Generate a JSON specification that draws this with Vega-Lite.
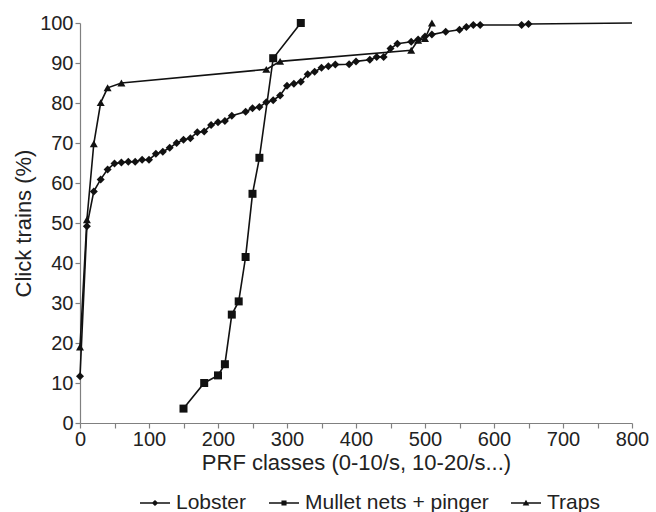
{
  "$schema": "https://vega.github.io/schema/vega-lite/v6.json",
  "width": 552,
  "height": 400,
  "autosize": "none",
  "padding": {"left": 80, "top": 23, "right": 24, "bottom": 89},
  "background": "white",
  "config": {
    "font": "Liberation Sans",
    "view": {"stroke": null},
    "axis": {
      "domainColor": "#808080",
      "tickColor": "#808080",
      "labelColor": "#222222",
      "titleColor": "#222222",
      "labelFontSize": 20,
      "titleFontSize": 22,
      "titleFontWeight": "normal",
      "grid": false,
      "tickSize": 5,
      "domainWidth": 1.2,
      "tickWidth": 1.2
    },
    "legend": {
      "labelFontSize": 21,
      "labelColor": "#222222",
      "labelLimit": 400
    }
  },
  "data": {
    "values": [
      {"series": "Lobster", "x": 0, "y": 11.7},
      {"series": "Lobster", "x": 10, "y": 49.2},
      {"series": "Lobster", "x": 20, "y": 57.9},
      {"series": "Lobster", "x": 30, "y": 60.9},
      {"series": "Lobster", "x": 40, "y": 63.4},
      {"series": "Lobster", "x": 50, "y": 64.9},
      {"series": "Lobster", "x": 60, "y": 65.1},
      {"series": "Lobster", "x": 70, "y": 65.3},
      {"series": "Lobster", "x": 80, "y": 65.3},
      {"series": "Lobster", "x": 90, "y": 65.8},
      {"series": "Lobster", "x": 100, "y": 65.8},
      {"series": "Lobster", "x": 110, "y": 67.3},
      {"series": "Lobster", "x": 120, "y": 67.8},
      {"series": "Lobster", "x": 130, "y": 68.8},
      {"series": "Lobster", "x": 140, "y": 70.0},
      {"series": "Lobster", "x": 150, "y": 70.8},
      {"series": "Lobster", "x": 160, "y": 71.2},
      {"series": "Lobster", "x": 170, "y": 72.7},
      {"series": "Lobster", "x": 180, "y": 72.9},
      {"series": "Lobster", "x": 190, "y": 74.5},
      {"series": "Lobster", "x": 200, "y": 75.2},
      {"series": "Lobster", "x": 210, "y": 75.5},
      {"series": "Lobster", "x": 220, "y": 76.8},
      {"series": "Lobster", "x": 240, "y": 77.8},
      {"series": "Lobster", "x": 250, "y": 78.7},
      {"series": "Lobster", "x": 260, "y": 79.0},
      {"series": "Lobster", "x": 270, "y": 80.2},
      {"series": "Lobster", "x": 280, "y": 80.7},
      {"series": "Lobster", "x": 290, "y": 81.9},
      {"series": "Lobster", "x": 300, "y": 84.3},
      {"series": "Lobster", "x": 310, "y": 84.8},
      {"series": "Lobster", "x": 320, "y": 85.3},
      {"series": "Lobster", "x": 330, "y": 87.2},
      {"series": "Lobster", "x": 340, "y": 87.8},
      {"series": "Lobster", "x": 350, "y": 88.8},
      {"series": "Lobster", "x": 360, "y": 89.2},
      {"series": "Lobster", "x": 370, "y": 89.6},
      {"series": "Lobster", "x": 390, "y": 89.7},
      {"series": "Lobster", "x": 400, "y": 90.4},
      {"series": "Lobster", "x": 420, "y": 90.8},
      {"series": "Lobster", "x": 430, "y": 91.5},
      {"series": "Lobster", "x": 440, "y": 91.5},
      {"series": "Lobster", "x": 450, "y": 93.6},
      {"series": "Lobster", "x": 460, "y": 94.8},
      {"series": "Lobster", "x": 480, "y": 95.3},
      {"series": "Lobster", "x": 490, "y": 95.9},
      {"series": "Lobster", "x": 500, "y": 96.6},
      {"series": "Lobster", "x": 510, "y": 97.1},
      {"series": "Lobster", "x": 530, "y": 97.8},
      {"series": "Lobster", "x": 550, "y": 98.3},
      {"series": "Lobster", "x": 560, "y": 99.0},
      {"series": "Lobster", "x": 570, "y": 99.5},
      {"series": "Lobster", "x": 580, "y": 99.5},
      {"series": "Lobster", "x": 640, "y": 99.5},
      {"series": "Lobster", "x": 650, "y": 99.75},
      {"series": "Lobster", "x": 800, "y": 100},
      {"series": "Mullet nets + pinger", "x": 150, "y": 3.6},
      {"series": "Mullet nets + pinger", "x": 180, "y": 10.0},
      {"series": "Mullet nets + pinger", "x": 200, "y": 11.9},
      {"series": "Mullet nets + pinger", "x": 210, "y": 14.7},
      {"series": "Mullet nets + pinger", "x": 220, "y": 27.1},
      {"series": "Mullet nets + pinger", "x": 230, "y": 30.4},
      {"series": "Mullet nets + pinger", "x": 240, "y": 41.5},
      {"series": "Mullet nets + pinger", "x": 250, "y": 57.3},
      {"series": "Mullet nets + pinger", "x": 260, "y": 66.3},
      {"series": "Mullet nets + pinger", "x": 280, "y": 91.2},
      {"series": "Mullet nets + pinger", "x": 320, "y": 100},
      {"series": "Traps", "x": 0, "y": 19.0},
      {"series": "Traps", "x": 10, "y": 50.8},
      {"series": "Traps", "x": 20, "y": 69.8},
      {"series": "Traps", "x": 30, "y": 80.1},
      {"series": "Traps", "x": 40, "y": 83.8},
      {"series": "Traps", "x": 60, "y": 85.0},
      {"series": "Traps", "x": 270, "y": 88.4},
      {"series": "Traps", "x": 290, "y": 90.4},
      {"series": "Traps", "x": 480, "y": 93.2},
      {"series": "Traps", "x": 490, "y": 95.7},
      {"series": "Traps", "x": 500, "y": 96.1},
      {"series": "Traps", "x": 510, "y": 100}
    ]
  },
  "encoding": {
    "x": {
      "field": "x", "type": "quantitative",
      "scale": {"domain": [0, 800], "nice": false},
      "axis": {
        "title": "PRF classes (0-10/s, 10-20/s...)",
        "values": [0, 50, 100, 150, 200, 250, 300, 350, 400, 450, 500, 550, 600, 650, 700, 750, 800],
        "labelExpr": "datum.value % 100 === 0 ? datum.label : ''",
        "labelPadding": 1,
        "titlePadding": 3,
        "labelFlush": false
      }
    },
    "y": {
      "field": "y", "type": "quantitative",
      "scale": {"domain": [0, 100], "nice": false},
      "axis": {
        "title": "Click trains (%)",
        "values": [0, 10, 20, 30, 40, 50, 60, 70, 80, 90, 100],
        "labelPadding": 2,
        "titlePadding": 4
      }
    }
  },
  "layer": [
    {
      "mark": {"type": "line", "color": "#111111", "strokeWidth": 1.6},
      "encoding": {"detail": {"field": "series"}}
    },
    {
      "transform": [{"filter": "datum.x < 800"}],
      "mark": {"type": "point", "filled": true, "opacity": 1, "color": "#111111", "size": 64},
      "encoding": {
        "shape": {
          "field": "series", "type": "nominal",
          "scale": {"domain": ["Lobster", "Mullet nets + pinger", "Traps"], "range": ["diamond", "square", "triangle-up"]},
          "legend": null
        }
      }
    },
    {
      "transform": [{"filter": "datum.x < 0"}],
      "mark": {"type": "point", "filled": true, "color": "#111111", "opacity": 1},
      "encoding": {
        "shape": {
          "field": "series", "type": "nominal",
          "scale": {
            "domain": ["Lobster", "Mullet nets + pinger", "Traps"],
            "range": [
              "M-1,-0.045H1V0.045H-1Z M-0.22,0L0,-0.2L0.22,0L0,0.2Z",
              "M-1,-0.045H1V0.045H-1Z M-0.17,-0.17H0.17V0.17H-0.17Z",
              "M-1,-0.045H1V0.045H-1Z M-0.22,0.17L0,-0.22L0.22,0.17Z"
            ]
          },
          "legend": {
            "title": null,
            "orient": "none",
            "legendX": 60,
            "legendY": 465,
            "direction": "horizontal",
            "padding": 0,
            "symbolSize": 900,
            "symbolStrokeWidth": 0,
            "symbolFillColor": "#111111",
            "symbolOpacity": 1,
            "labelOffset": 6,
            "columnPadding": 22
          }
        }
      }
    }
  ],
  "resolve": {"scale": {"shape": "independent"}}
}
